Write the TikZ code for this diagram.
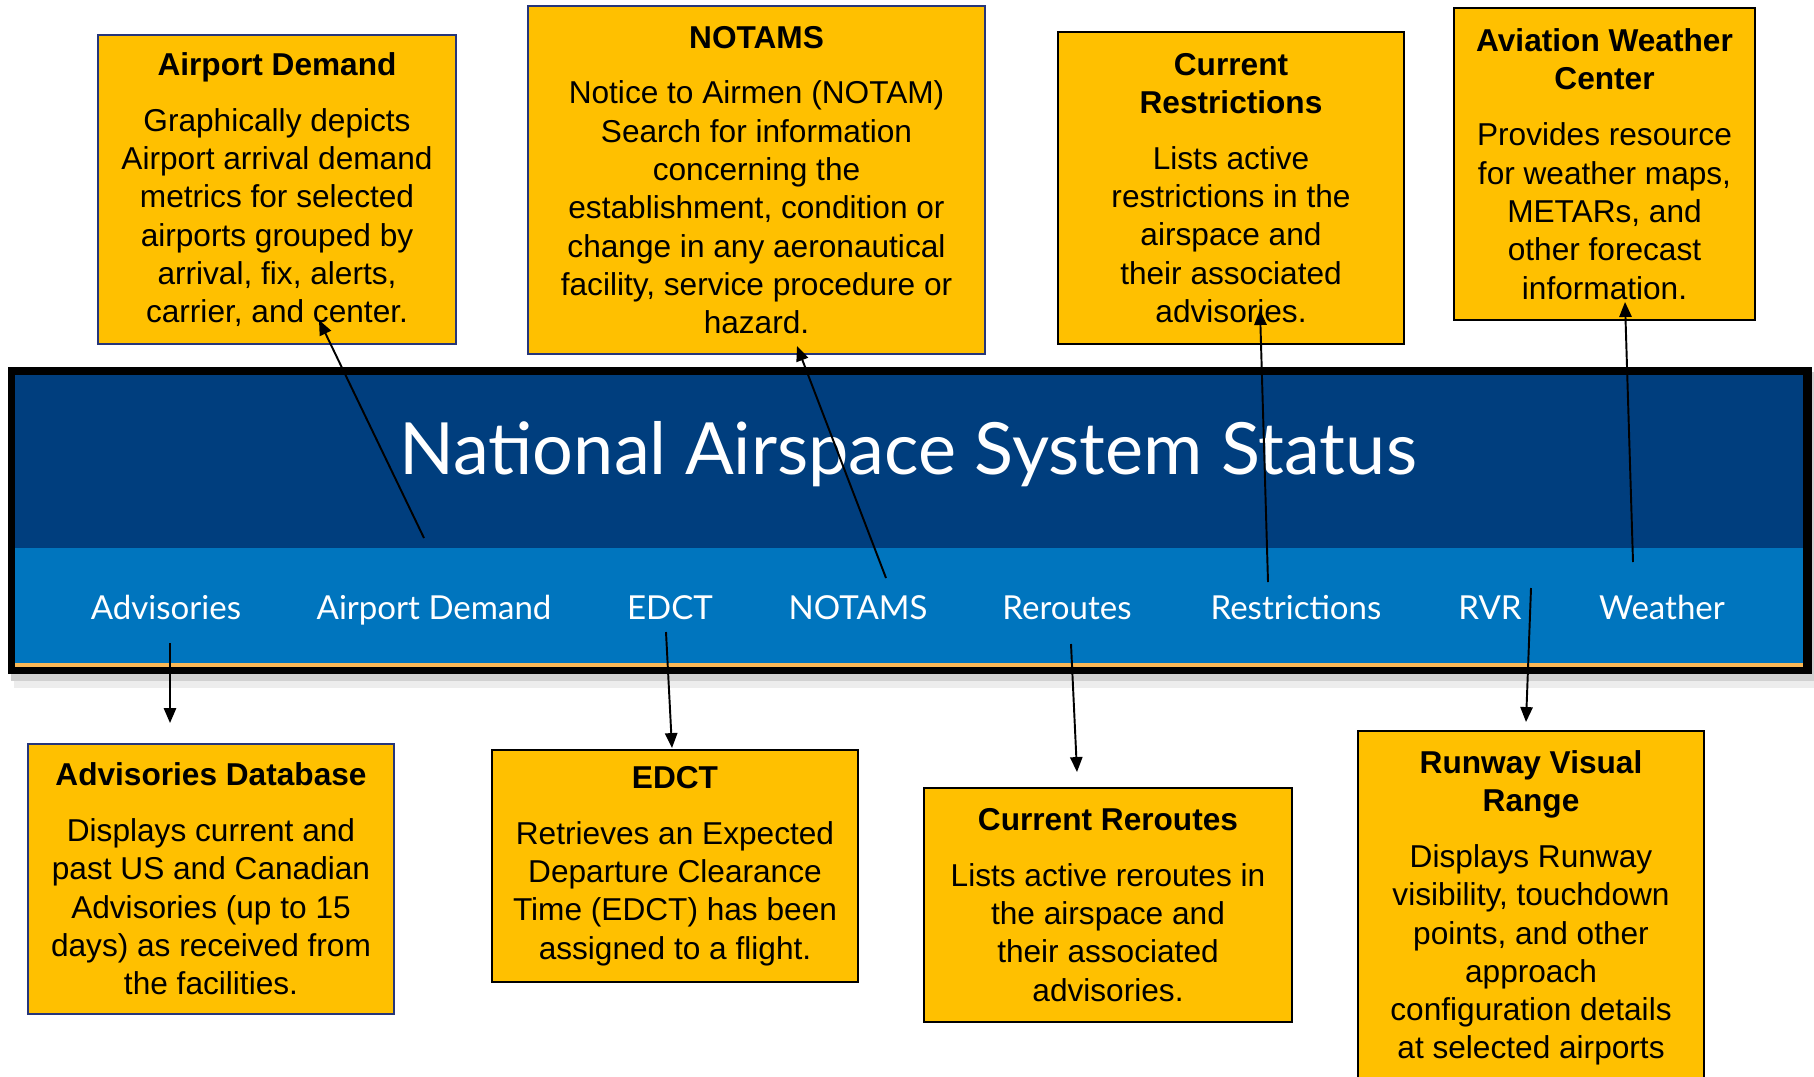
\documentclass[tikz,border=0pt]{standalone}
\usepackage{fontspec}
\setmainfont{Liberation Sans}
\newfontfamily\latofont{Lato}
\usepackage{tikz}
\usetikzlibrary{arrows.meta}
\definecolor{boxgold}{RGB}{255,192,0}
\definecolor{boxnavy}{RGB}{38,54,122}
\definecolor{bannerdark}{RGB}{0,62,126}
\definecolor{bannerlight}{RGB}{0,117,190}
\definecolor{bannerline}{RGB}{250,184,86}
\tikzset{infobox/.style={draw=black,line width=1.2pt,fill=boxgold,align=center,
   font=\fontsize{18pt}{21.8pt}\selectfont,inner sep=4pt},
 navy/.style={draw=boxnavy},
 navlink/.style={text=white,font=\latofont\fontsize{18.8pt}{22pt}\selectfont,
   inner sep=0pt,anchor=base},
 pointer/.style={line width=1.1pt,-{Triangle[length=8.5pt,width=7pt]}},
 }

\begin{document}
\begin{tikzpicture}[x=0.02cm,y=-0.02cm]
        \useasboundingbox (0,0) rectangle (1814,1076);
        \clip (0,0) rectangle (1814,1076);
        % banner
        \fill[black!7] (14,378) rectangle (1820,688);
        \fill[black!18] (11,372) rectangle (1816,681);
        \fill[black] (8,367) rectangle (1812,674);
        \fill[bannerdark] (15,375) rectangle (1803,548);
        \fill[bannerlight] (15,548) rectangle (1803,663);
        \fill[bannerline] (15,663) rectangle (1803,667);
        \node[text=white,font=\latofont\fontsize{41pt}{48pt}\selectfont,inner sep=0pt,anchor=base]
            (title) at (908,474) {National Airspace System Status};
        \node[navlink] (navadvis) at (166,619) {Advisories};
        \node[navlink] (navdemand) at (434,619) {Airport Demand};
        \node[navlink] (navedct) at (670,619) {EDCT};
        \node[navlink] (navnotams) at (858,619) {NOTAMS};
        \node[navlink] (navreroute) at (1067,619) {Reroutes};
        \node[navlink] (navrestrict) at (1296,619) {Restrictions};
        \node[navlink] (navrvr) at (1490,619) {RVR};
        \node[navlink] (navweather) at (1662,619) {Weather};
        % upper boxes
        \node[infobox,navy,minimum width=7.16cm,minimum height=6.18cm] (demand) at (277,189.5)
            {\textbf{Airport Demand}\\[10pt]Graphically depicts\\Airport arrival demand\\metrics for selected\\airports grouped by\\arrival, fix, alerts,\\carrier, and center.};
        \node[infobox,navy,minimum width=9.14cm,minimum height=6.96cm] (notams) at (756.5,180)
            {\textbf{NOTAMS}\\[10pt]Notice to Airmen (NOTAM)\\Search for information\\concerning the\\establishment, condition or\\change in any aeronautical\\facility, service procedure or\\hazard.};
        \node[infobox,minimum width=6.92cm,minimum height=6.24cm] (restrict) at (1231,188)
            {\textbf{Current}\\\textbf{Restrictions}\\[10pt]Lists active\\restrictions in the\\airspace and\\their associated\\advisories.};
        \node[infobox,minimum width=6.02cm,minimum height=6.24cm] (weather) at (1604.5,164)
            {\textbf{Aviation Weather}\\\textbf{Center}\\[10pt]Provides resource\\for weather maps,\\METARs, and\\other forecast\\information.};
        % lower boxes
        \node[infobox,navy,minimum width=7.32cm,minimum height=5.4cm] (advis) at (211,879)
            {\textbf{Advisories Database}\\[10pt]Displays current and\\past US and Canadian\\Advisories (up to 15\\days) as received from\\the facilities.};
        \node[infobox,minimum width=7.32cm,minimum height=4.64cm] (edct) at (675,866)
            {\textbf{EDCT}\\[10pt]Retrieves an Expected\\Departure Clearance\\Time (EDCT) has been\\assigned to a flight.};
        \node[infobox,minimum width=7.36cm,minimum height=4.68cm] (reroute) at (1108,905)
            {\textbf{Current Reroutes}\\[10pt]Lists active reroutes in\\the airspace and\\their associated\\advisories.};
        \node[infobox,minimum width=6.92cm,inner ysep=11pt,text depth=2cm,anchor=north] (rvr) at (1531,730)
            {\textbf{Runway Visual}\\\textbf{Range}\\[10pt]Displays Runway\\visibility, touchdown\\points, and other\\approach\\configuration details\\at selected airports};
        % arrows
        \coordinate (demandfoot) at (424,538);
        \coordinate (demandtip) at (319,320);
        \coordinate (notamsfoot) at (886,578);
        \coordinate (notamstip) at (797,346);
        \coordinate (restrictfoot) at (1268,582);
        \coordinate (restricttip) at (1260,310);
        \coordinate (weatherfoot) at (1633,562);
        \coordinate (weathertip) at (1625,302);
        \coordinate (advisfoot) at (170,643);
        \coordinate (advistip) at (170,723);
        \coordinate (edctfoot) at (666,632);
        \coordinate (edcttip) at (672,748);
        \coordinate (reroutefoot) at (1071,644);
        \coordinate (reroutetip) at (1077,772);
        \coordinate (rvrfoot) at (1531,588);
        \coordinate (rvrtip) at (1526,722);
        \draw[pointer] (demandfoot) -- (demandtip);
        \draw[pointer] (notamsfoot) -- (notamstip);
        \draw[pointer] (restrictfoot) -- (restricttip);
        \draw[pointer] (weatherfoot) -- (weathertip);
        \draw[pointer] (advisfoot) -- (advistip);
        \draw[pointer] (edctfoot) -- (edcttip);
        \draw[pointer] (reroutefoot) -- (reroutetip);
        \draw[pointer] (rvrfoot) -- (rvrtip);
    \end{tikzpicture}
\end{document}
